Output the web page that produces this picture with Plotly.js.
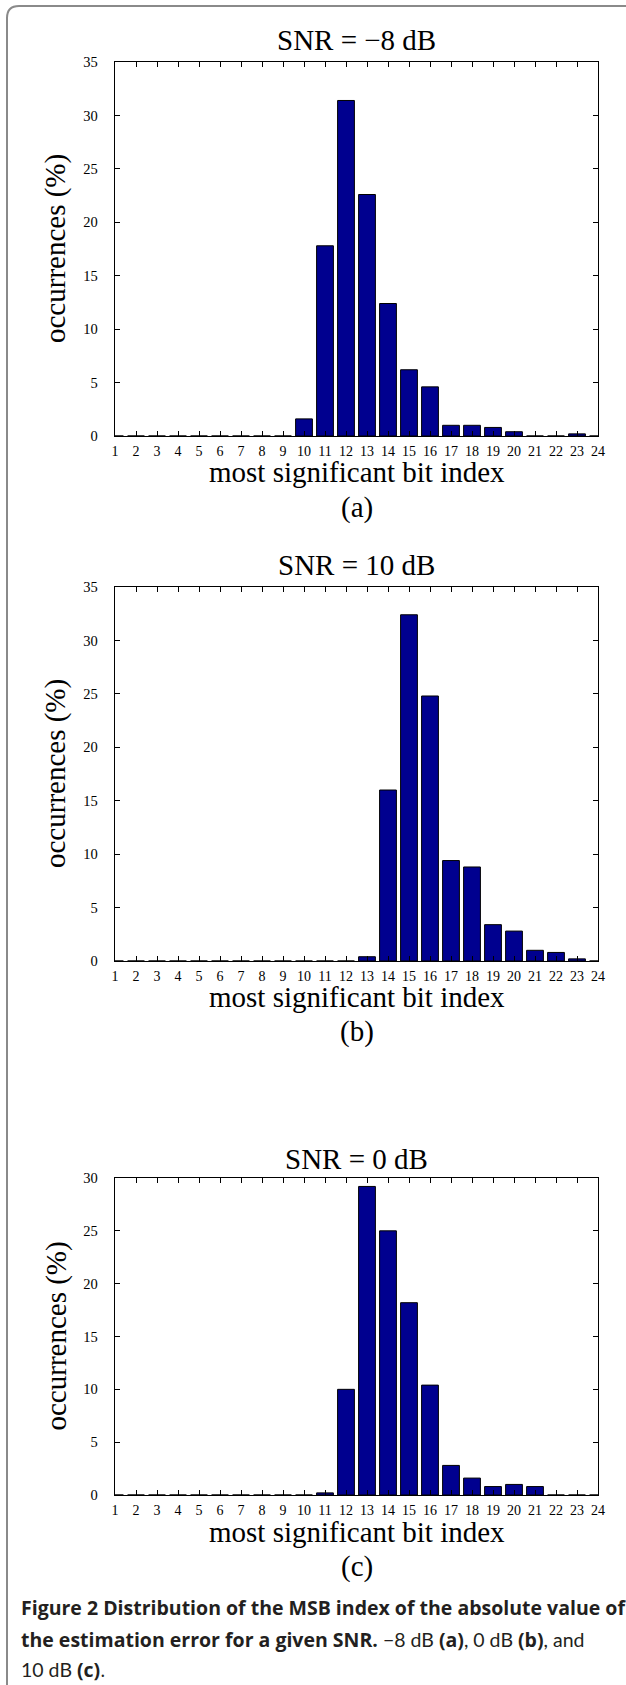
<!DOCTYPE html>
<html>
<head>
<meta charset="utf-8">
<script src="https://cdn.plot.ly/plotly-3.0.1.min.js"></script>
<style>
  html, body { margin: 0; padding: 0; background: #ffffff; }
  #chart { width: 626px; height: 1685px; }
</style>
</head>
<body>
<div id="chart"></div>
<script>
// ---- data ----
const bitIndex = [1,2,3,4,5,6,7,8,9,10,11,12,13,14,15,16,17,18,19,20,21,22,23,24];
const tickLabels = ["1","2","3","4","5","6","7","8","9","10","11","12","13","14","15","16","17","18","19","20","21","22","23","24"];
const occSnrMinus8 = [0,0,0,0,0,0,0,0,0,1.6,17.8,31.4,22.6,12.4,6.2,4.6,1.0,1.0,0.8,0.4,0,0,0.2,0];
const occSnr10     = [0,0,0,0,0,0,0,0,0,0,0,0,0.4,16.0,32.4,24.8,9.4,8.8,3.4,2.8,1.0,0.8,0.2,0];
const occSnr0      = [0,0,0,0,0,0,0,0,0,0,0.2,10.0,29.2,25.0,18.2,10.4,2.8,1.6,0.8,1.0,0.8,0,0,0];
const panelTitles = ["SNR = \u22128 dB", "SNR = 10 dB", "SNR = 0 dB"];
const panelLetters = ["(a)", "(b)", "(c)"];
const yMax = [35, 35, 30];
const xTitle = "most significant bit index";
const yTitle = "occurrences (%)";

// ---- layout helpers (pixel -> paper) ----
const W = 626, H = 1685;
const px = x => x / W;
const py = y => 1 - y / H;

const plotLeft = 115, plotRight = 598;
const panels = [
  {top: 62,   bottom: 436, titleY: 40,   xTitleY: 472,  letterY: 507},
  {top: 587,  bottom: 961, titleY: 565,  xTitleY: 997,  letterY: 1031},
  {top: 1178, bottom: 1495, titleY: 1159, xTitleY: 1532, letterY: 1566}
];

const serif = "Liberation Serif, Times New Roman, serif";
const barColor = "#00008F";

const series = [occSnrMinus8, occSnr10, occSnr0];
const data = series.map((vals, i) => ({
  type: "bar",
  x: bitIndex,
  y: vals,
  width: 0.8,
  xaxis: i === 0 ? "x" : "x" + (i + 1),
  yaxis: i === 0 ? "y" : "y" + (i + 1),
  marker: {color: barColor, line: {color: "#000000", width: 1}},
  hoverinfo: "skip",
  showlegend: false
}));

const layout = {
  width: W, height: H,
  margin: {l: 0, r: 0, t: 0, b: 0, pad: 0},
  paper_bgcolor: "#ffffff",
  plot_bgcolor: "#ffffff",
  showlegend: false,
  annotations: [],
  shapes: []
};

panels.forEach((p, i) => {
  const xa = i === 0 ? "xaxis" : "xaxis" + (i + 1);
  const ya = i === 0 ? "yaxis" : "yaxis" + (i + 1);
  const yName = i === 0 ? "y" : "y" + (i + 1);
  const xName = i === 0 ? "x" : "x" + (i + 1);
  layout[xa] = {
    domain: [px(plotLeft), px(plotRight)],
    anchor: yName,
    range: [1, 24],
    tickmode: "array",
    tickvals: bitIndex,
    ticktext: tickLabels,
    ticks: "inside",
    ticklen: 5,
    tickwidth: 1,
    tickcolor: "#000000",
    showline: true,
    linecolor: "#000000",
    linewidth: 1.3,
    mirror: "ticks",
    showgrid: false,
    zeroline: false,
    ticklabelstandoff: 2,
    tickfont: {family: serif, size: 14, color: "#000000"},
    fixedrange: true
  };
  layout[ya] = {
    domain: [py(p.bottom), py(p.top)],
    anchor: xName,
    range: [0, yMax[i]],
    dtick: 5,
    tick0: 0,
    ticks: "inside",
    ticklen: 5,
    tickwidth: 1,
    tickcolor: "#000000",
    showline: true,
    linecolor: "#000000",
    linewidth: 1.3,
    mirror: "ticks",
    showgrid: false,
    zeroline: false,
    ticklabelstandoff: 13,
    tickfont: {family: serif, size: 14.5, color: "#000000"},
    fixedrange: true
  };
  const cx = px((plotLeft + plotRight) / 2);
  layout.annotations.push({
    text: panelTitles[i], xref: "paper", yref: "paper",
    x: cx, y: py(p.titleY), xanchor: "center", yanchor: "middle",
    showarrow: false, font: {family: serif, size: 29, color: "#000000"}
  });
  layout.annotations.push({
    text: xTitle, xref: "paper", yref: "paper",
    x: cx, y: py(p.xTitleY), xanchor: "center", yanchor: "middle",
    showarrow: false, font: {family: serif, size: 29, color: "#000000"}
  });
  layout.annotations.push({
    text: panelLetters[i], xref: "paper", yref: "paper",
    x: cx, y: py(p.letterY), xanchor: "center", yanchor: "middle",
    showarrow: false, font: {family: serif, size: 29, color: "#000000"}
  });
  layout.annotations.push({
    text: yTitle, xref: "paper", yref: "paper",
    x: px(56), y: py((p.top + p.bottom) / 2), xanchor: "center", yanchor: "middle",
    textangle: -90,
    showarrow: false, font: {family: serif, size: 29, color: "#000000"}
  });
});

// caption
const capFont = {family: "Open Sans, sans-serif", size: 19.5, color: "#231f20"};
const reg = s => `<span style="font-family:Lato, sans-serif;">${s}</span>`;
const captionLines = [
  "<b>Figure 2 Distribution of the MSB index of the absolute value of</b>",
  "<b>the estimation error for a given SNR.</b>" + reg(" \u22128 dB ") + "<b>(a)</b>" + reg(", 0 dB ") + "<b>(b)</b>" + reg(", and"),
  reg("10 dB ") + "<b>(c)</b>."
];
const captionY = [1607, 1639, 1669];
captionLines.forEach((t, k) => {
  layout.annotations.push({
    text: t, xref: "paper", yref: "paper",
    x: px(19), y: py(captionY[k]), xanchor: "left", yanchor: "middle",
    showarrow: false, font: capFont, align: "left"
  });
});

// outer frame (rounded top-left corner)
const fx = 7, fy = 6, r = 12;
layout.shapes.push({
  type: "path", xref: "paper", yref: "paper",
  path: `M ${px(fx)},${py(H + 5)} L ${px(fx)},${py(fy + r)} Q ${px(fx)},${py(fy)} ${px(fx + r)},${py(fy)} L ${px(W + 5)},${py(fy)}`,
  line: {color: "#8a8a8a", width: 2}
});

Plotly.newPlot("chart", data, layout, {staticPlot: true, displayModeBar: false});
</script>
</body>
</html>
